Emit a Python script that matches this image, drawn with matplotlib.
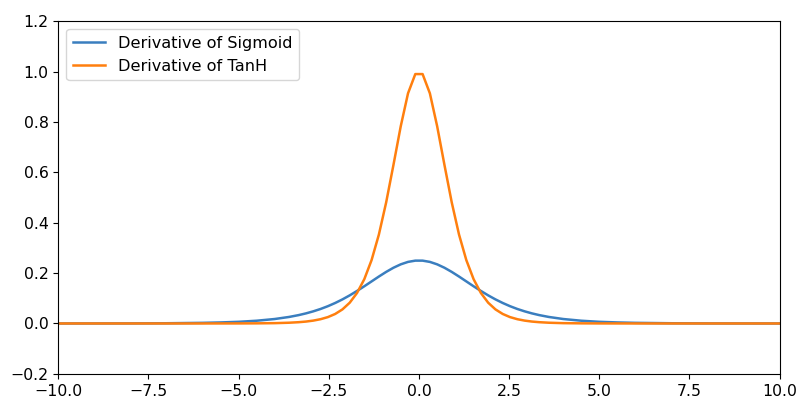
import matplotlib
matplotlib.use("Agg")
import matplotlib.pyplot as plt

x_values = [-10.0, -9.0, -8.0, -7.0, -6.0, -5.5, -5.0, -4.5, -4.0, -3.6,
            -3.333, -3.131, -2.929, -2.727, -2.525, -2.323, -2.121, -1.919, -1.717, -1.515,
            -1.313, -1.111, -0.909, -0.707, -0.505, -0.303, -0.101,
            0.101, 0.303, 0.505, 0.707, 0.909, 1.111, 1.313, 1.515, 1.717, 1.919,
            2.121, 2.323, 2.525, 2.727, 2.929, 3.131, 3.333, 3.6, 4.0, 4.5,
            5.0, 5.5, 6.0, 7.0, 8.0, 9.0, 10.0]

sigmoid_deriv = [0.0000, 0.0001, 0.0003, 0.0009, 0.0025, 0.0041, 0.0066, 0.0109, 0.0177, 0.0259,
                 0.0333, 0.0401, 0.0482, 0.0576, 0.0686, 0.0813, 0.0956, 0.1116, 0.1291, 0.1477,
                 0.1670, 0.1863, 0.2047, 0.2212, 0.2347, 0.2444, 0.2494,
                 0.2494, 0.2444, 0.2347, 0.2212, 0.2047, 0.1863, 0.1670, 0.1477, 0.1291, 0.1116,
                 0.0956, 0.0813, 0.0686, 0.0576, 0.0482, 0.0401, 0.0333, 0.0259, 0.0177, 0.0109,
                 0.0066, 0.0041, 0.0025, 0.0009, 0.0003, 0.0001, 0.0000]

tanh_deriv = [0.0, 0.0, 0.0, 0.0, 0.0, 0.0001, 0.0002, 0.0005, 0.0013, 0.0030,
              0.0051, 0.0076, 0.0114, 0.0170, 0.0253, 0.0377, 0.0559, 0.0825, 0.1211, 0.1758,
              0.2517, 0.3529, 0.4806, 0.6293, 0.7827, 0.9135, 0.9899,
              0.9899, 0.9135, 0.7827, 0.6293, 0.4806, 0.3529, 0.2517, 0.1758, 0.1211, 0.0825,
              0.0559, 0.0377, 0.0253, 0.0170, 0.0114, 0.0076, 0.0051, 0.0030, 0.0013, 0.0005,
              0.0002, 0.0001, 0.0, 0.0, 0.0, 0.0, 0.0]

labels = ["Derivative of Sigmoid", "Derivative of TanH"]

fig, ax = plt.subplots(figsize=(7.98, 3.99), dpi=100)
fig.subplots_adjust(left=0.073, right=0.977, top=0.947, bottom=0.063)
ax.plot(x_values, sigmoid_deriv, color="#3a7ebf", lw=1.8, label=labels[0])
ax.plot(x_values, tanh_deriv, color="#ff7f0e", lw=1.8, label=labels[1])
ax.set_xlim(-10, 10)
ax.set_ylim(-0.2, 1.2)
ax.tick_params(labelsize=11.3)
ax.legend(loc="upper left", fontsize=11.6)
fig.savefig("out.png", dpi=100)
